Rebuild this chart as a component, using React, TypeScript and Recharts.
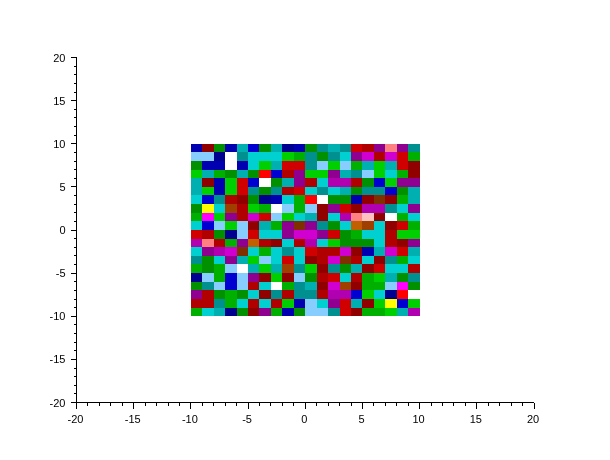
import React from "react";
import { ScatterChart, Scatter, XAxis, YAxis } from "recharts";

// scilab default colormap, index 1..32
const colormap = [
  "#000000", "#0000ff", "#00ff00", "#00ffff", "#ff0000", "#ff00ff", "#ffff00", "#ffffff",
  "#000090", "#0000b0", "#0000d0", "#87ceff", "#009000", "#00b000", "#00d000", "#009090",
  "#00b0b0", "#00d0d0", "#900000", "#b00000", "#d00000", "#900090", "#b000b0", "#d000d0",
  "#803000", "#a04000", "#c06000", "#ff8080", "#ffa0a0", "#ffc0c0", "#ffe0e0", "#ffd700",
];

const xCenters = [-9.5, -8.5, -7.5, -6.5, -5.5, -4.5, -3.5, -2.5, -1.5, -0.5, 0.5, 1.5, 2.5, 3.5, 4.5, 5.5, 6.5, 7.5, 8.5, 9.5];
const yCenters = [9.5, 8.5, 7.5, 6.5, 5.5, 4.5, 3.5, 2.5, 1.5, 0.5, -0.5, -1.5, -2.5, -3.5, -4.5, -5.5, -6.5, -7.5, -8.5, -9.5];

// colour index of each cell, top row first
const matrix = [
  [10, 19, 13, 10, 17, 11, 13, 17, 9, 10, 13, 16, 17, 16, 21, 20, 22, 28, 22, 16],
  [12, 12, 9, 8, 16, 18, 18, 18, 15, 14, 16, 13, 16, 18, 22, 24, 20, 24, 21, 14],
  [13, 10, 10, 8, 10, 18, 15, 17, 21, 21, 16, 12, 15, 12, 14, 17, 15, 17, 21, 19],
  [15, 17, 14, 13, 17, 13, 5, 11, 20, 22, 15, 15, 22, 17, 16, 12, 15, 18, 14, 19],
  [17, 19, 10, 15, 21, 11, 8, 13, 17, 22, 20, 18, 23, 23, 20, 13, 11, 15, 22, 22],
  [17, 15, 10, 15, 21, 16, 13, 16, 20, 21, 18, 16, 18, 17, 13, 16, 16, 11, 13, 17],
  [18, 11, 16, 20, 19, 13, 9, 10, 18, 14, 5, 8, 13, 13, 10, 19, 25, 19, 14, 17],
  [13, 7, 18, 26, 20, 15, 14, 8, 12, 14, 12, 19, 22, 21, 19, 23, 23, 16, 18, 22],
  [14, 6, 15, 22, 20, 24, 21, 12, 15, 18, 17, 19, 18, 23, 28, 30, 19, 8, 14, 18],
  [18, 11, 12, 15, 12, 19, 17, 14, 22, 25, 22, 16, 13, 18, 27, 26, 18, 19, 21, 14],
  [21, 20, 13, 9, 12, 21, 18, 18, 22, 24, 24, 22, 21, 13, 14, 18, 18, 20, 15, 15],
  [23, 28, 20, 14, 22, 27, 20, 19, 18, 20, 23, 18, 15, 13, 13, 13, 18, 20, 19, 22],
  [18, 22, 23, 24, 25, 18, 14, 18, 16, 18, 21, 20, 20, 24, 19, 10, 17, 24, 21, 17],
  [16, 13, 18, 22, 17, 15, 12, 18, 21, 18, 19, 20, 24, 25, 20, 18, 19, 16, 14, 18],
  [14, 13, 14, 12, 8, 17, 15, 17, 26, 16, 15, 19, 16, 13, 17, 19, 21, 18, 18, 20],
  [9, 12, 14, 11, 12, 22, 19, 15, 19, 12, 13, 20, 21, 18, 20, 14, 15, 17, 13, 16],
  [13, 16, 12, 11, 12, 20, 18, 8, 14, 16, 17, 19, 24, 26, 19, 14, 14, 12, 6, 13],
  [22, 20, 13, 14, 13, 18, 19, 16, 20, 16, 16, 20, 23, 23, 11, 15, 18, 9, 5, 8],
  [20, 20, 16, 14, 18, 20, 18, 20, 15, 10, 12, 18, 22, 21, 17, 19, 15, 7, 11, 15],
  [14, 18, 17, 9, 13, 19, 22, 14, 10, 13, 12, 12, 16, 21, 19, 14, 14, 15, 17, 23],
];

const axisDomain: [number, number] = [-20, 20];
const unitTicks = [
  -20, -19, -18, -17, -16, -15, -14, -13, -12, -11, -10, -9, -8, -7, -6, -5, -4, -3, -2, -1, 0,
  1, 2, 3, 4, 5, 6, 7, 8, 9, 10, 11, 12, 13, 14, 15, 16, 17, 18, 19, 20,
];

const cells = matrix.flatMap((row, r) =>
  row.map((colorIndex, c) => ({ x: xCenters[c], y: yCenters[r], colorIndex }))
);

const CHART_W = 610;
const CHART_H = 460;
const PLOT_LEFT = 76.5;
const PLOT_TOP = 57.5;
const PLOT_W = 457.5;
const PLOT_H = 345;
// one cell spans one axis unit
const CELL_W = PLOT_W / 40 + 0.05;
const CELL_H = PLOT_H / 40 + 0.1;

const tickFont = { fontFamily: "Liberation Sans", fontSize: 11, fill: "#000" };

function CellShape(props: any) {
  const { cx, cy, payload } = props;
  return (
    <rect
      x={cx - CELL_W / 2}
      y={cy - CELL_H / 2}
      width={CELL_W}
      height={CELL_H}
      fill={colormap[payload.colorIndex - 1]}
      shapeRendering="crispEdges"
    />
  );
}

function BottomTick(props: any) {
  const { x, y, payload } = props;
  const major = payload.value % 5 === 0;
  return (
    <g>
      <line x1={x} x2={x} y1={y} y2={y + (major ? 6 : 3)} stroke="#000" shapeRendering="crispEdges" />
      {major && (
        <text x={x - 1} y={y + 20} textAnchor="middle" {...tickFont}>
          {payload.value}
        </text>
      )}
    </g>
  );
}

function LeftTick(props: any) {
  const { x, y, payload } = props;
  const major = payload.value % 5 === 0;
  return (
    <g>
      <line x1={x} x2={x - (major ? 6 : 3)} y1={y} y2={y} stroke="#000" shapeRendering="crispEdges" />
      {major && (
        <text x={x - 11} y={y + 4} textAnchor="end" {...tickFont}>
          {payload.value}
        </text>
      )}
    </g>
  );
}

export default function App() {
  return (
    <div style={{ position: "absolute", left: 0, top: 0, width: CHART_W, height: CHART_H, willChange: "transform" }}>
      <ScatterChart
        width={CHART_W}
        height={CHART_H}
        margin={{ top: PLOT_TOP, right: CHART_W - PLOT_LEFT - PLOT_W, bottom: 0, left: 0 }}
      >
        <XAxis
          type="number"
          dataKey="x"
          domain={axisDomain}
          ticks={unitTicks}
          interval={0}
          height={CHART_H - PLOT_TOP - PLOT_H}
          tick={BottomTick}
          tickLine={false}
          tickSize={0}
          tickMargin={0}
          axisLine={{ stroke: "#000", shapeRendering: "crispEdges" }}
        />
        <YAxis
          type="number"
          dataKey="y"
          domain={axisDomain}
          ticks={unitTicks}
          interval={0}
          width={PLOT_LEFT}
          tick={LeftTick}
          tickLine={false}
          tickSize={0}
          tickMargin={0}
          axisLine={{ stroke: "#000", shapeRendering: "crispEdges" }}
        />
        <Scatter data={cells} shape={CellShape} isAnimationActive={false} />
      </ScatterChart>
    </div>
  );
}
